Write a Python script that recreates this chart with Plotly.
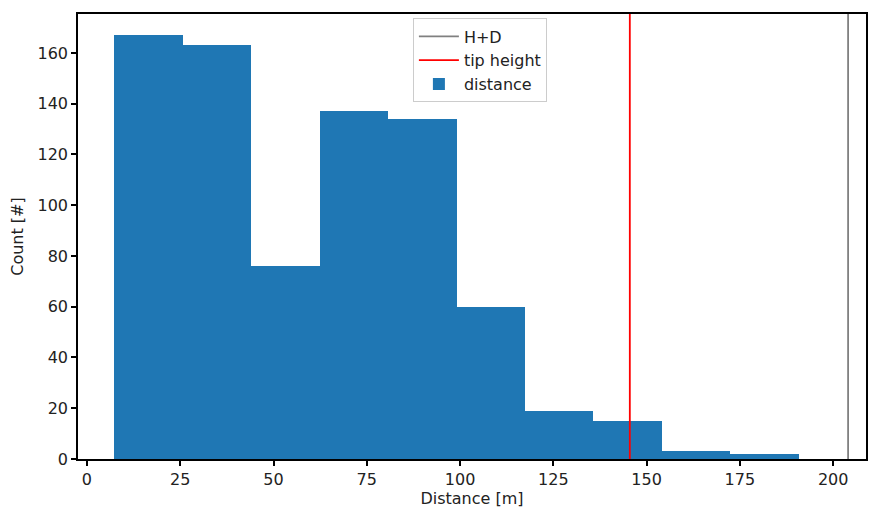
import plotly.graph_objects as go

# Histogram data
bin_edges = [7.3, 25.65, 44.0, 62.35, 80.7, 99.05, 117.4, 135.75, 154.1, 172.45, 190.8]
counts = [167, 163, 76, 137, 134, 60, 19, 15, 3, 2]
tip_height = 145.5
h_plus_d = 204.0

x_ticks = [0, 25, 50, 75, 100, 125, 150, 175, 200]
y_ticks = [0, 20, 40, 60, 80, 100, 120, 140, 160]

centers = [(a + b) / 2 for a, b in zip(bin_edges[:-1], bin_edges[1:])]
widths = [b - a for a, b in zip(bin_edges[:-1], bin_edges[1:])]

y_max = max(counts) * 1.05
x_min, x_max = -2.4, 208.8

FS = 16
font = dict(family="DejaVu Sans", size=FS, color="#222222")

fig = go.Figure()
fig.add_trace(go.Bar(
    x=centers, y=counts, width=widths, marker=dict(color="#1f77b4", line=dict(width=0)),
    name="distance", legendrank=3))
fig.add_trace(go.Scatter(
    x=[h_plus_d, h_plus_d], y=[-10, y_max + 10], mode="lines",
    line=dict(color="grey", width=1.8), name="H+D", legendrank=1))
fig.add_trace(go.Scatter(
    x=[tip_height, tip_height], y=[-10, y_max + 10], mode="lines",
    line=dict(color="red", width=1.8), name="tip height", legendrank=2))

fig.update_layout(
    width=876, height=508,
    margin=dict(l=78, r=10, t=14, b=49),
    paper_bgcolor="white", plot_bgcolor="white",
    font=font,
    showlegend=True,
    legend=dict(x=0.425, y=0.99, xanchor="left", yanchor="top",
                bgcolor="rgba(255,255,255,0.9)", bordercolor="#cccccc", borderwidth=1,
                font=dict(family="DejaVu Sans", size=FS, color="#222222"),
                traceorder="normal", itemwidth=40),
    bargap=0,
)
fig.update_xaxes(
    range=[x_min, x_max], tickvals=x_ticks, ticktext=[str(v) for v in x_ticks],
    showgrid=False, zeroline=False, showline=True, linecolor="black", linewidth=1.5,
    mirror=True, ticks="outside", ticklen=5, tickcolor="black", tickwidth=1.5,
    automargin=False,
    title=dict(text="Distance [m]", font=dict(family="DejaVu Sans", size=FS), standoff=6),
)
fig.update_yaxes(
    range=[0, y_max], tickvals=y_ticks, ticktext=[str(v) for v in y_ticks],
    showgrid=False, zeroline=False, showline=True, linecolor="black", linewidth=1.5,
    mirror=True, ticks="outside", ticklen=5, tickcolor="black", tickwidth=1.5,
    automargin=False,
    title=dict(text="Count [#]", font=dict(family="DejaVu Sans", size=FS), standoff=10),
)

fig.write_html("out.html", config={"displayModeBar": False})

# remove default page margin so the figure sits at the window's top-left corner
with open("out.html", "r", encoding="utf-8") as f:
    html = f.read()
html = html.replace("<head>", "<head><style>html,body{margin:0;padding:0;overflow:hidden;}</style>", 1)
with open("out.html", "w", encoding="utf-8") as f:
    f.write(html)
